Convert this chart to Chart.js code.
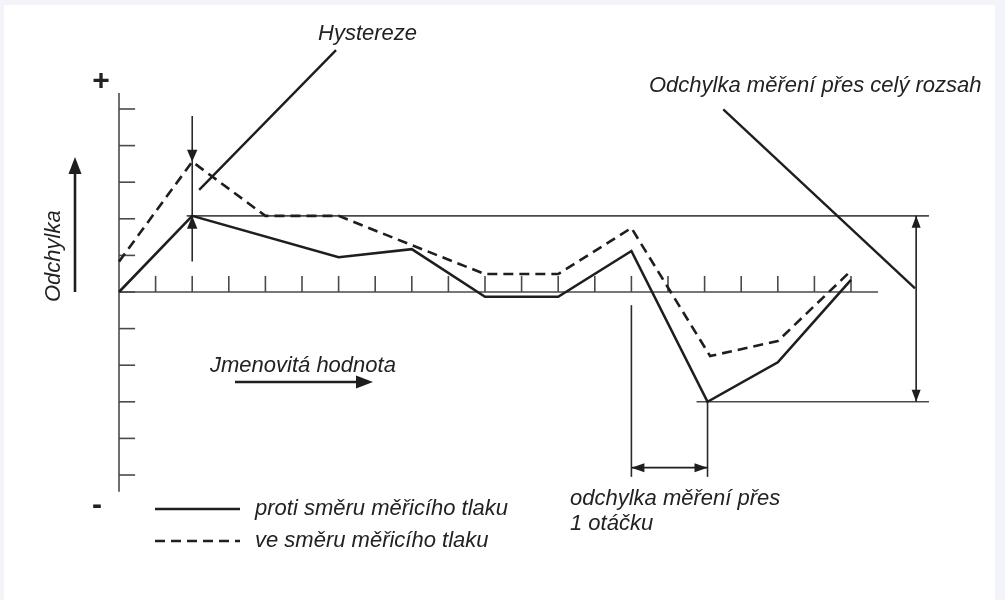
<!DOCTYPE html>
<html><head><meta charset="utf-8">
<script src="https://cdn.jsdelivr.net/npm/chart.js@4"></script>
<style>
html,body{margin:0;padding:0;background:#f3f4f9;}
#wrap{position:absolute;left:0;top:0;width:1005px;height:600px;}
</style></head>
<body><div id="wrap"><canvas id="c" width="1005" height="600"></canvas></div>
<script>
// ---- data (units of the diagram grid) ----
const solidX = [0, 2, 6, 8, 10, 12, 14, 16.08, 18, 20];
const solidValues = [0, 2.08, 0.95, 1.17, -0.13, -0.13, 1.12, -3.0, -1.92, 0.33];
const dashedX = [0, 2, 4, 6, 8, 10, 12, 14, 16.15, 18, 20];
const dashedValues = [0.83, 3.56, 2.08, 2.08, 1.28, 0.49, 0.49, 1.75, -1.75, -1.34, 0.58];
const xTicks = [1,2,3,4,5,6,7,8,9,10,11,12,13,14,15,16,17,18,19,20];
const yTicks = [-5,-4,-3,-2,-1,0,1,2,3,4,5];
const seriesLabels = ['proti směru měřicího tlaku', 've směru měřicího tlaku'];
const labelHyst = 'Hystereze';
const labelRange = 'Odchylka měření přes celý rozsah';
const labelTurn1 = 'odchylka měření přes';
const labelTurn2 = '1 otáčku';
const labelY = 'Odchylka';
const labelX = 'Jmenovitá hodnota';

const toPts = (xs, ys) => xs.map((x, i) => ({x: x, y: ys[i]}));

const FONT = 'italic 22px "Liberation Sans", Arial, Helvetica, sans-serif';
const INK = '#1e1e1e';
const AXIS = '#4a4a4a';

function head(ctx, tx, ty, dx, dy, len, hw) {
  const n = Math.hypot(dx, dy); dx /= n; dy /= n;
  const bx = tx - dx * len, by = ty - dy * len;
  ctx.beginPath();
  ctx.moveTo(tx, ty);
  ctx.lineTo(bx - dy * hw, by + dx * hw);
  ctx.lineTo(bx + dy * hw, by - dx * hw);
  ctx.closePath();
  ctx.fill();
}
function seg(ctx, x1, y1, x2, y2) {
  ctx.beginPath(); ctx.moveTo(x1, y1); ctx.lineTo(x2, y2); ctx.stroke();
}

const bgPlugin = {
  id: 'bg',
  beforeDraw(chart) {
    const ctx = chart.ctx;
    ctx.save();
    ctx.fillStyle = '#f3f4f9';
    ctx.fillRect(0, 0, chart.width, chart.height);
    ctx.fillStyle = '#ffffff';
    ctx.fillRect(4, 5, 991, 595);
    ctx.restore();
  },
  beforeDatasetsDraw(chart) {
    const ctx = chart.ctx, xs = chart.scales.x, ys = chart.scales.y;
    const X = v => xs.getPixelForValue(v), Y = v => ys.getPixelForValue(v);
    ctx.save();
    ctx.strokeStyle = AXIS; ctx.lineWidth = 1.6; ctx.lineCap = 'butt';
    // y axis
    seg(ctx, X(0), Y(5.44), X(0), Y(-5.46));
    // x axis
    seg(ctx, X(0), Y(0), X(20.74), Y(0));
    // ticks
    xTicks.forEach(t => seg(ctx, X(t), Y(0), X(t), Y(0.44)));
    yTicks.forEach(t => seg(ctx, X(0), Y(t), X(0.44), Y(t)));
    // reference lines
    seg(ctx, X(1.85), Y(2.08), X(22.13), Y(2.08));
    seg(ctx, X(15.78), Y(-3.0), X(22.13), Y(-3.0));
    ctx.restore();
  },
  afterDatasetsDraw(chart) {
    const ctx = chart.ctx, xs = chart.scales.x, ys = chart.scales.y;
    const X = v => xs.getPixelForValue(v), Y = v => ys.getPixelForValue(v);
    ctx.save();
    ctx.fillStyle = INK; ctx.strokeStyle = INK;
    // hysteresis marker
    ctx.lineWidth = 1.5;
    seg(ctx, X(2), Y(4.81), X(2), Y(0.83));
    head(ctx, X(2), Y(3.56), 0, 1, 12, 5.2);
    head(ctx, X(2), Y(2.08), 0, -1, 13, 5.2);
    // leader lines
    ctx.lineWidth = 2.4;
    seg(ctx, X(2.19), Y(2.79), X(5.93), Y(6.61));
    seg(ctx, X(16.51), Y(4.99), X(21.75), Y(0.10));
    // range double arrow
    ctx.lineWidth = 1.6;
    seg(ctx, X(21.78), Y(2.08), X(21.78), Y(-3.0));
    head(ctx, X(21.78), Y(2.08), 0, -1, 12, 4.5);
    head(ctx, X(21.78), Y(-3.0), 0, 1, 12, 4.5);
    // one-turn markers
    ctx.strokeStyle = '#2a2a2a';
    seg(ctx, X(14), Y(-0.36), X(14), Y(-5.05));
    seg(ctx, X(16.08), Y(-3.0), X(16.08), Y(-5.05));
    ctx.strokeStyle = INK; ctx.lineWidth = 1.8;
    seg(ctx, X(14), Y(-4.8), X(16.08), Y(-4.8));
    head(ctx, X(14), Y(-4.8), -1, 0, 13, 4.5);
    head(ctx, X(16.08), Y(-4.8), 1, 0, 13, 4.5);

    // axis direction arrows
    ctx.lineWidth = 2.6;
    seg(ctx, 75, 292, 75, 170);
    head(ctx, 75, 157, 0, -1, 17, 6.5);
    seg(ctx, 235, 382, 360, 382);
    head(ctx, 373, 382, 1, 0, 17, 6.5);

    // texts
    ctx.font = FONT; ctx.textBaseline = 'alphabetic'; ctx.textAlign = 'left';
    ctx.fillStyle = '#222222';
    ctx.fillText(labelHyst, 318, 40);
    ctx.fillText(labelRange, 649, 92);
    ctx.fillText(labelX, 210, 372);
    ctx.fillText(labelTurn1, 570, 505);
    ctx.fillText(labelTurn2, 570, 530);
    ctx.fillText(seriesLabels[0], 255, 515);
    ctx.fillText(seriesLabels[1], 255, 547);
    ctx.save();
    ctx.translate(60, 302);
    ctx.rotate(-Math.PI / 2);
    ctx.fillText(labelY, 0, 0);
    ctx.restore();
    ctx.font = 'bold 30px "Liberation Sans", Arial, sans-serif';
    ctx.textAlign = 'center'; ctx.textBaseline = 'middle';
    ctx.fillText('+', 101, 82);
    ctx.fillText('-', 97, 506);

    // legend samples
    ctx.strokeStyle = INK; ctx.lineWidth = 2.6;
    seg(ctx, 155, 509, 240, 509);
    ctx.setLineDash([10, 6]);
    seg(ctx, 155, 541, 240, 541);
    ctx.setLineDash([]);
    ctx.restore();
  }
};

// scale ranges chosen so one grid unit = 36.6 px, origin at (119, 292)
const UNIT = 36.6, ORIGIN_X = 119, ORIGIN_Y = 292, W = 1005, H = 600;
const xMin = -ORIGIN_X / UNIT, xMax = xMin + W / UNIT;
const yMax = ORIGIN_Y / UNIT, yMin = yMax - H / UNIT;

new Chart(document.getElementById('c'), {
  type: 'scatter',
  data: {
    datasets: [
      { label: seriesLabels[0], data: toPts(solidX, solidValues), showLine: true,
        borderColor: INK, borderWidth: 2.6, pointRadius: 0, tension: 0, fill: false },
      { label: seriesLabels[1], data: toPts(dashedX, dashedValues), showLine: true,
        borderColor: INK, borderWidth: 2.6, borderDash: [10, 6], pointRadius: 0, tension: 0, fill: false }
    ]
  },
  options: {
    responsive: false, animation: false, devicePixelRatio: 1,
    layout: { padding: 0 },
    plugins: { legend: { display: false }, tooltip: { enabled: false }, title: { display: false } },
    scales: {
      x: { type: 'linear', min: xMin, max: xMax, display: false },
      y: { type: 'linear', min: yMin, max: yMax, display: false }
    }
  },
  plugins: [bgPlugin]
});
</script>
</body></html>
